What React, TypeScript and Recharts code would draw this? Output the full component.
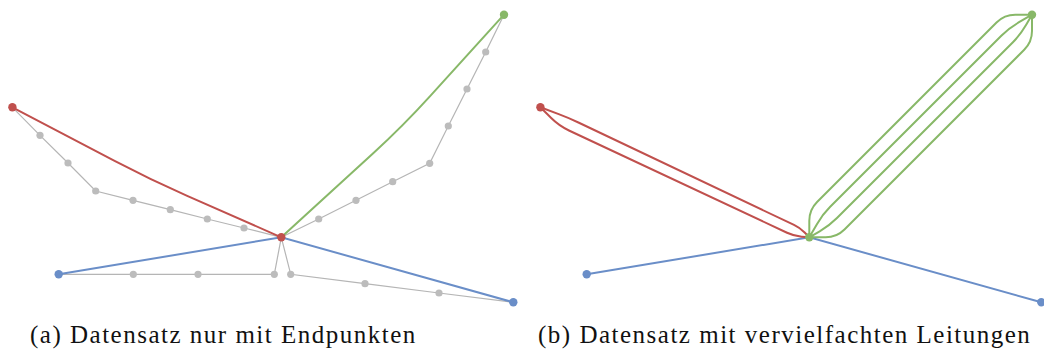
import { ComposedChart, Line, XAxis, YAxis } from "recharts";

type Pt = { x: number; y: number };

const RED = "#c0504d";
const GREEN = "#88b868";
const BLUE = "#6a8ec8";
const GRAY = "#b5b5b5";

// station positions (map units, y grows downward)
const hub: Pt = { x: 281.3, y: 237.3 };
const redEnd: Pt = { x: 12.4, y: 107.3 };
const greenEnd: Pt = { x: 504, y: 14.7 };
const blueWest: Pt = { x: 58.7, y: 274.3 };
const blueEast: Pt = { x: 513.3, y: 302.3 };

// real line routes with their intermediate points
const grayRedRoute: Pt[] = [
  redEnd,
  { x: 40, y: 135.3 },
  { x: 68, y: 163 },
  { x: 95.7, y: 191 },
  { x: 133, y: 200.3 },
  { x: 170.3, y: 209.7 },
  { x: 207.3, y: 219 },
  { x: 244, y: 228 },
  hub,
];
const grayGreenRoute: Pt[] = [
  greenEnd,
  { x: 485.7, y: 52 },
  { x: 467, y: 89 },
  { x: 448.3, y: 126 },
  { x: 429.7, y: 163.3 },
  { x: 392.7, y: 181.7 },
  { x: 356, y: 200.3 },
  { x: 318.7, y: 219 },
  hub,
];
const grayWestRoute: Pt[] = [
  blueWest,
  { x: 133.3, y: 274.3 },
  { x: 198, y: 274.3 },
  { x: 274.3, y: 274.3 },
  hub,
];
const grayEastRoute: Pt[] = [
  hub,
  { x: 290.7, y: 274.3 },
  { x: 365, y: 283.7 },
  { x: 439, y: 293 },
  blueEast,
];
const grayRoutes = [grayRedRoute, grayGreenRoute, grayWestRoute, grayEastRoute];

// schematic links, endpoints only
const redLink: Pt[] = [redEnd, { x: 150, y: 179.5 }, hub];
const greenLink: Pt[] = [hub, { x: 403, y: 126 }, greenEnd];
const blueLink: Pt[] = [blueWest, hub, blueEast];

// multiplied lines
const redLines: Pt[][] = [
  [redEnd, { x: 41, y: 118 }, { x: 272, y: 227.8 }, hub],
  [redEnd, { x: 31, y: 125.8 }, { x: 266, y: 236 }, hub],
];
const greenLines: Pt[][] = [
  [hub, { x: 281.3, y: 209.7 }, { x: 476.3, y: 14.7 }, greenEnd],
  [hub, { x: 294.4, y: 214.6 }, { x: 481.1, y: 28 }, greenEnd],
  [hub, { x: 301.2, y: 225.8 }, { x: 492.7, y: 34.4 }, greenEnd],
  [hub, { x: 308.7, y: 237.3 }, { x: 504, y: 42 }, greenEnd],
];

const captionA = "(a) Datensatz nur mit Endpunkten";
const captionB = "(b) Datensatz mit vervielfachten Leitungen";

// polyline with rounded corners (d3 curve factory interface)
const rounded = (radius: number) => (ctx: any) => {
  let pts: number[][] = [];
  return {
    areaStart() {},
    areaEnd() {},
    lineStart() {
      pts = [];
    },
    point(x: number, y: number) {
      pts.push([x, y]);
    },
    lineEnd() {
      if (!pts.length) return;
      ctx.moveTo(pts[0][0], pts[0][1]);
      for (let i = 1; i < pts.length - 1; i++) {
        const [px, py] = pts[i - 1];
        const [cx, cy] = pts[i];
        const [nx, ny] = pts[i + 1];
        const d1 = Math.hypot(cx - px, cy - py) || 1;
        const d2 = Math.hypot(nx - cx, ny - cy) || 1;
        const r = Math.min(radius, d1 / 2, d2 / 2);
        ctx.lineTo(cx - ((cx - px) / d1) * r, cy - ((cy - py) / d1) * r);
        ctx.quadraticCurveTo(cx, cy, cx + ((nx - cx) / d2) * r, cy + ((ny - cy) / d2) * r);
      }
      const last = pts[pts.length - 1];
      ctx.lineTo(last[0], last[1]);
    },
  };
};
const soft = rounded(40);
const tight = rounded(11);

// gray stop markers on the inner points of a route only
const innerDot = (len: number) => (p: any) =>
  p.index > 0 && p.index < len - 1 ? (
    <circle key={p.index} cx={p.cx} cy={p.cy} r={3.6} fill="#bcbcbc" />
  ) : (
    <g key={p.index} />
  );

const H = 310;
const M = { top: 0, right: 0, bottom: 0, left: 0 };

const stationLine = (key: string, pts: Pt[], color: string) => (
  <Line
    key={key}
    data={pts}
    dataKey="y"
    type="linear"
    stroke="none"
    dot={{ r: 4.2, fill: color, stroke: "none", strokeWidth: 0 }}
    activeDot={false}
    isAnimationActive={false}
  />
);

const path = (key: string, pts: Pt[], color: string, curve: any, width = 2) => (
  <Line
    key={key}
    data={pts}
    dataKey="y"
    type={curve}
    stroke={color}
    strokeWidth={width}
    dot={false}
    activeDot={false}
    isAnimationActive={false}
  />
);

function PanelA() {
  const w = 520;
  return (
    <ComposedChart width={w} height={H} margin={M}>
      <XAxis type="number" dataKey="x" domain={[0, w]} hide allowDataOverflow />
      <YAxis type="number" dataKey="y" domain={[0, H]} hide reversed allowDataOverflow />
      {grayRoutes.map((r, i) => (
        <Line
          key={"g" + i}
          data={r}
          dataKey="y"
          type="linear"
          stroke={GRAY}
          strokeWidth={1.2}
          dot={innerDot(r.length)}
          activeDot={false}
          isAnimationActive={false}
        />
      ))}
      {path("blue", blueLink, BLUE, "linear")}
      {path("red", redLink, RED, soft)}
      {path("green", greenLink, GREEN, soft)}
      {stationLine("sb", [blueWest, blueEast], BLUE)}
      {stationLine("sg", [greenEnd], GREEN)}
      {stationLine("sr", [redEnd, hub], RED)}
    </ComposedChart>
  );
}

function PanelB() {
  const w = 516;
  return (
    <ComposedChart width={w} height={H} margin={M}>
      <XAxis type="number" dataKey="x" domain={[0, w]} hide allowDataOverflow />
      <YAxis type="number" dataKey="y" domain={[0, H]} hide reversed allowDataOverflow />
      {path("blue", blueLink, BLUE, "linear")}
      {redLines.map((r, i) => path("r" + i, r, RED, tight))}
      {greenLines.map((r, i) => path("gr" + i, r, GREEN, tight))}
      {stationLine("sb", [blueWest, blueEast], BLUE)}
      {stationLine("sr", [redEnd], RED)}
      {stationLine("sg", [greenEnd, hub], GREEN)}
    </ComposedChart>
  );
}

const captionStyle: React.CSSProperties = {
  position: "absolute",
  top: 321,
  fontFamily: "'Liberation Serif', serif",
  fontSize: 25,
  letterSpacing: 1.5,
  color: "#111",
  whiteSpace: "nowrap",
};

export default function App() {
  return (
    <div style={{ position: "absolute", left: 0, top: 0, width: 1044, height: 356, background: "#fff", overflow: "hidden" }}>
      <div style={{ position: "absolute", left: 0, top: 0 }}>
        <PanelA />
      </div>
      <div style={{ position: "absolute", left: 528, top: 0 }}>
        <PanelB />
      </div>
      <div style={{ ...captionStyle, left: 30 }}>{captionA}</div>
      <div style={{ ...captionStyle, left: 538 }}>{captionB}</div>
    </div>
  );
}
